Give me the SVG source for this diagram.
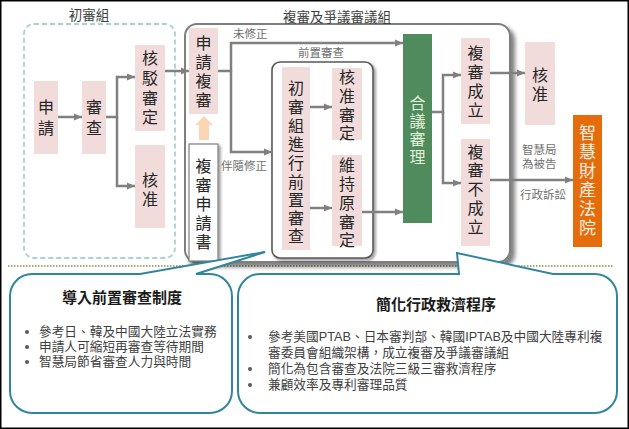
<svg xmlns="http://www.w3.org/2000/svg" width="629" height="429" viewBox="0 0 629 429">
<defs>
<marker id="ah" markerUnits="userSpaceOnUse" markerWidth="8" markerHeight="8" refX="8" refY="4" orient="auto">
<path d="M0,0.5 L8,4 L0,7.5 z" fill="#808080"/>
</marker>
<filter id="sh" x="-10%" y="-10%" width="130%" height="130%">
<feDropShadow dx="4" dy="4" stdDeviation="2" flood-color="#000" flood-opacity="0.5"/>
</filter>
<filter id="sh2" x="-10%" y="-10%" width="130%" height="130%">
<feDropShadow dx="2" dy="2" stdDeviation="1.5" flood-color="#000" flood-opacity="0.4"/>
</filter>
</defs>
<style>
text{font-family:'Liberation Sans','Noto Sans CJK TC',sans-serif;}
.box{fill:#f2dcdb;}
.bt{font-size:16px;fill:#262626;text-anchor:middle;dominant-baseline:central;}
.lbl{font-size:11.5px;fill:#6f6f6f;dominant-baseline:central;}
.glbl{font-size:13.5px;fill:#404040;text-anchor:middle;dominant-baseline:central;}
.conn{fill:none;stroke:#808080;stroke-width:2.5;marker-end:url(#ah);}
.callout{fill:#fff;stroke:#31859c;stroke-width:2;}
.ttl{font-size:15px;font-weight:bold;fill:#1a1a1a;text-anchor:middle;dominant-baseline:central;}
.ct{font-size:12.7px;fill:#404040;dominant-baseline:central;}
.dot{fill:#595959;}
</style>
<rect x="0.75" y="0.75" width="627.5" height="427.5" fill="#fff" stroke="#000" stroke-width="1.5"/>
<line x1="8" y1="266" x2="614" y2="266" stroke="#948a54" stroke-width="1.5" stroke-dasharray="1.5 1.5"/>

<g id="group-initial">
<rect x="24" y="24" width="151" height="234" rx="10" fill="none" stroke="#a9d2cf" stroke-width="1.8" stroke-dasharray="5 3"/>
<text class="glbl" x="89" y="15">初審組</text>
</g>

<g id="group-review">
<rect x="185" y="24" width="325" height="238" rx="12" fill="#fff" stroke="#7f7f7f" stroke-width="2" filter="url(#sh)"/>
<text class="glbl" x="337" y="17">複審及爭議審議組</text>
</g>

<g id="group-pre">
<rect x="272" y="62" width="101" height="196" rx="8" fill="#fff" stroke="#595959" stroke-width="1.6" filter="url(#sh2)"/>
<text class="lbl" x="298" y="53">前置審查</text>
</g>

<g id="n-apply">
<rect class="box" x="34" y="81" width="24" height="73"/>
<text class="bt" x="46"><tspan x="46" y="107">申</tspan><tspan x="46" y="128">請</tspan></text>
</g>
<g id="n-exam">
<rect class="box" x="82" y="81" width="24" height="73"/>
<text class="bt" x="94"><tspan x="94" y="107">審</tspan><tspan x="94" y="128">查</tspan></text>
</g>
<g id="n-reject">
<rect class="box" x="135" y="45" width="30" height="86"/>
<text class="bt"><tspan x="150" y="58">核</tspan><tspan x="150" y="78">駁</tspan><tspan x="150" y="98">審</tspan><tspan x="150" y="117">定</tspan></text>
</g>
<g id="n-approve1">
<rect class="box" x="135" y="145" width="30" height="83"/>
<text class="bt"><tspan x="150" y="180">核</tspan><tspan x="150" y="199">准</tspan></text>
</g>
<g id="n-request">
<rect class="box" x="189" y="28" width="29" height="86"/>
<text class="bt"><tspan x="203.5" y="43">申</tspan><tspan x="203.5" y="62">請</tspan><tspan x="203.5" y="81">複</tspan><tspan x="203.5" y="100">審</tspan></text>
</g>
<g id="n-form">
<rect x="189" y="144" width="29" height="117" fill="#fff" stroke="#7f7f7f" stroke-width="1.2" filter="url(#sh2)"/>
<text class="bt"><tspan x="203.5" y="166">複</tspan><tspan x="203.5" y="185">審</tspan><tspan x="203.5" y="204">申</tspan><tspan x="203.5" y="223">請</tspan><tspan x="203.5" y="242">書</tspan></text>
</g>
<g id="n-uparrow">
<path d="M199,140 V125 H195 L204,116 L213,125 H209 V140 Z" fill="#fcd5b4"/>
</g>
<g id="n-prereview">
<rect class="box" x="282" y="67" width="28" height="183"/>
<text class="bt"><tspan x="296" y="88">初</tspan><tspan x="296" y="107">審</tspan><tspan x="296" y="126">組</tspan><tspan x="296" y="144">進</tspan><tspan x="296" y="163">行</tspan><tspan x="296" y="182">前</tspan><tspan x="296" y="200">置</tspan><tspan x="296" y="218">審</tspan><tspan x="296" y="236">查</tspan></text>
</g>
<g id="n-approve2">
<rect class="box" x="332" y="68" width="30" height="72"/>
<text class="bt"><tspan x="347" y="77">核</tspan><tspan x="347" y="96">准</tspan><tspan x="347" y="115">審</tspan><tspan x="347" y="133">定</tspan></text>
</g>
<g id="n-maintain">
<rect class="box" x="332" y="155" width="30" height="91"/>
<text class="bt"><tspan x="347" y="165">維</tspan><tspan x="347" y="184">持</tspan><tspan x="347" y="203">原</tspan><tspan x="347" y="222">審</tspan><tspan x="347" y="240">定</tspan></text>
</g>
<g id="n-panel">
<rect x="403" y="34" width="29" height="189" fill="#4f8b5c"/>
<text class="bt" style="fill:#e2f0d9"><tspan x="417.5" y="103">合</tspan><tspan x="417.5" y="121">議</tspan><tspan x="417.5" y="139">審</tspan><tspan x="417.5" y="157">理</tspan></text>
</g>
<g id="n-established">
<rect class="box" x="461" y="38" width="29" height="86"/>
<text class="bt"><tspan x="475.5" y="53">複</tspan><tspan x="475.5" y="72">審</tspan><tspan x="475.5" y="91">成</tspan><tspan x="475.5" y="110">立</tspan></text>
</g>
<g id="n-notestablished">
<rect class="box" x="461" y="139" width="29" height="107"/>
<text class="bt"><tspan x="475.5" y="152">複</tspan><tspan x="475.5" y="170">審</tspan><tspan x="475.5" y="189">不</tspan><tspan x="475.5" y="208">成</tspan><tspan x="475.5" y="227">立</tspan></text>
</g>
<g id="n-approve3">
<rect class="box" x="525" y="42" width="30" height="83"/>
<text class="bt"><tspan x="540" y="75">核</tspan><tspan x="540" y="94">准</tspan></text>
</g>
<g id="n-court">
<rect x="573" y="115" width="29" height="132" fill="#e46c0a"/>
<text class="bt" style="font-size:17px;fill:#fdeee4"><tspan x="587.5" y="133">智</tspan><tspan x="587.5" y="152">慧</tspan><tspan x="587.5" y="171">財</tspan><tspan x="587.5" y="190">產</tspan><tspan x="587.5" y="209">法</tspan><tspan x="587.5" y="228">院</tspan></text>
</g>

<g id="connectors">
<path class="conn" d="M58,117 H82"/>
<path class="conn" d="M106,117 H117 V77 H135"/>
<path class="conn" d="M117,117 V186 H135"/>
<path class="conn" d="M165,71 H189"/>
<path class="conn" d="M218,71 H231 V43 H403"/>
<path class="conn" d="M231,71 V152 H272"/>
<path class="conn" d="M310,107 H332"/>
<path class="conn" d="M310,208 H332"/>
<path class="conn" d="M362,212 H403"/>
<path class="conn" d="M432,112 H443 V75 H461"/>
<path class="conn" d="M443,112 V183 H461"/>
<path class="conn" d="M490,73 H525"/>
<path class="conn" d="M490,180 H573"/>
<text class="lbl" x="233" y="34">未修正</text>
<text class="lbl" x="221" y="166">伴隨修正</text>
<text class="lbl" x="522" y="150">智慧局</text>
<text class="lbl" x="522" y="164">為被告</text>
<text class="lbl" x="520" y="195">行政訴訟</text>
</g>

<g id="callout-left">
<path class="callout" d="M32,274 H140 L265,252 L196,274 H210 A22,22 0 0 1 232,296 V391 A22,22 0 0 1 210,413 H32 A22,22 0 0 1 10,391 V296 A22,22 0 0 1 32,274 Z"/>
<text class="ttl" x="122" y="297">導入前置審查制度</text>
<circle class="dot" cx="27" cy="332" r="2"/>
<circle class="dot" cx="27" cy="347" r="2"/>
<circle class="dot" cx="27" cy="362" r="2"/>
<text class="ct" x="39" y="332">參考日、韓及中國大陸立法實務</text>
<text class="ct" x="39" y="347">申請人可縮短再審查等待期間</text>
<text class="ct" x="39" y="362">智慧局節省審查人力與時間</text>
</g>

<g id="callout-right">
<path class="callout" d="M260,274 H459 L457,253 L553,274 H595 A22,22 0 0 1 617,296 V391 A22,22 0 0 1 595,413 H260 A22,22 0 0 1 238,391 V296 A22,22 0 0 1 260,274 Z"/>
<text class="ttl" x="436" y="304">簡化行政救濟程序</text>
<circle class="dot" cx="250" cy="337" r="2"/>
<circle class="dot" cx="250" cy="369" r="2"/>
<circle class="dot" cx="250" cy="385" r="2"/>
<text class="ct" x="268" y="337">參考美國PTAB、日本審判部、韓國IPTAB及中國大陸專利複</text>
<text class="ct" x="268" y="353">審委員會組織架構，成立複審及爭議審議組</text>
<text class="ct" x="268" y="369">簡化為包含審查及法院三級三審救濟程序</text>
<text class="ct" x="268" y="385">兼顧效率及專利審理品質</text>
</g>
</svg>
